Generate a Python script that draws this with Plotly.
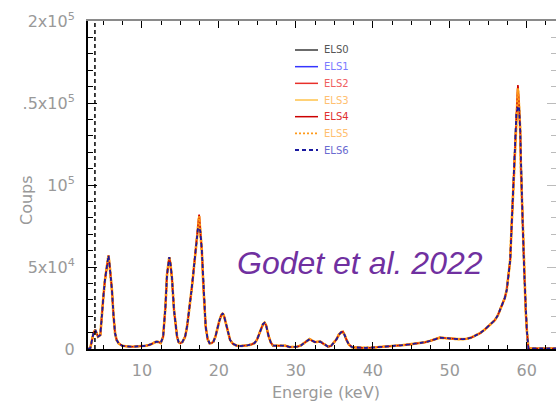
import plotly.graph_objects as go

# ---- data ----
energy_kev = [3.0, 3.3, 3.5, 3.7, 3.95, 4.1, 4.3, 4.6, 4.8, 5.0, 5.2, 5.36, 5.51, 5.66, 5.81, 5.96,
              6.11, 6.32, 6.52, 6.72, 6.97, 7.42, 8.03, 8.53, 9.03, 9.54, 10.04, 10.54, 11.05, 11.45,
              11.85, 12.15, 12.45, 12.76, 13.06, 13.26, 13.41, 13.56, 13.71, 13.91, 14.17, 14.37,
              14.57, 14.77, 14.97, 15.27, 15.62, 15.88, 16.18, 16.48, 16.68, 16.88, 17.08, 17.29,
              17.44, 17.59, 17.79, 17.99, 18.14, 18.29, 18.54, 18.8, 19.05, 19.3, 19.55, 19.8,
              20.05, 20.3, 20.51, 20.71, 20.96, 21.21, 21.46, 21.82, 22.32, 22.82, 23.33, 23.83,
              24.23, 24.63, 24.94, 25.24, 25.54, 25.74, 25.94, 26.14, 26.45, 26.75, 27.05, 27.55,
              28.16, 28.66, 29.16, 29.67, 30.17, 30.67, 31.18, 31.48, 31.78, 32.08, 32.48, 32.89,
              33.19, 33.49, 33.89, 34.2, 34.6, 35.0, 35.3, 35.6, 35.91, 36.11, 36.31, 36.61, 36.91,
              37.32, 37.82, 38.72, 39.73, 40.74, 41.74, 42.75, 43.76, 44.76, 45.77, 46.78, 47.48,
              48.09, 48.69, 49.29, 49.9, 50.5, 51.1, 51.71, 52.21, 52.82, 53.32, 53.92, 54.53,
              55.03, 55.43, 55.84, 56.24, 56.54, 56.84, 57.14, 57.4, 57.65, 57.85, 58.05, 58.25,
              58.45, 58.65, 58.85, 59.0, 59.15, 59.25, 59.46, 59.66, 59.86, 60.01, 60.21, 60.46,
              61.0, 62.0, 63.0, 64.0]

base_counts = [0, 500, 5000, 9700, 11600, 9500, 7500, 8500, 18000, 32000, 42000, 48000, 54000, 57000, 51000, 44000,
               36000, 20000, 9600, 5500, 3500, 2000, 1500, 1400, 1500, 1600, 1800, 2000, 2600, 3500,
               4400, 4300, 3700, 7500, 25800, 45000, 53000, 56000, 52000, 43000, 24000, 14000,
               7500, 4300, 3500, 4300, 7500, 14000, 24000, 37000, 46000, 56000, 65000, 74000,
               None, 72000, 60000, 38000, 24000, 13600, 6000, 3500, 3600, 4500, 7500, 12600,
               17000, 20500, 21800, 19500, 14500, 9000, 5500, 3200, 2000, 1800, 1900, 2300,
               2800, 3600, 5500, 9000, 13000, 15200, 16000, 14500, 8000, 4000, 2000, 2000,
               2400, 2000, 1200, 1100, 1400, 2200, 3800, 5200, 6000, 5200, 4200, 4400,
               4500, 3500, 2000, 1400, 2000, 4000, 6000, 8800, 10300, 10500, 8800, 5300, 2600,
               1100, 800, 700, 800, 1100, 1400, 1700, 2300, 2800, 3300, 4100, 5000,
               6200, 6900, 6700, 6400, 6100, 6000, 6000, 6200, 7000, 8000, 9600, 11800,
               14200, 15700, 17500, 20500, 23800, 27500, 31000, 36000, 45000, 54300, 76600, 99000,
               123000, 143000, None, 148000, 133500, 109000, 78700, 48200, 23800, 11600, 400, 300,
               300, 300, 300, 300]

series_names = ["ELS0", "ELS1", "ELS2", "ELS3", "ELS4", "ELS5", "ELS6"]
peak_17kev_counts = [72000, 73000, 81500, 80500, 82000, 81000, 73600]
peak_59kev_counts = [146000, 148000, 160000, 158000, 161000, 159000, 147800]

y_tick_values = [0, 50000, 100000, 150000, 200000]
y_tick_labels = ["0", "5x10<sup>4</sup>", "10<sup>5</sup>", ".5x10<sup>5</sup>", "2x10<sup>5</sup>"]
x_tick_values = [10, 20, 30, 40, 50, 60]
threshold_kev = 3.9

# ---- styles ----
line_colors = ["#3a3a3a", "#3535ff", "#e8302a", "#ffc24a", "#cc0000", "#ff9a1a", "#1a1aa0"]
text_colors = ["#555555", "#7a7aff", "#f06060", "#ffc070", "#e03030", "#ffc070", "#6a6ad0"]
line_widths = [1.6, 1.6, 1.8, 2.6, 1.6, 2.4, 1.8]
line_dashes = ["solid", "solid", "solid", "solid", "solid", "2px,2px", "4px,3px"]

W, H = 556, 401
L, R, T, B = 88, 0, 21, 52
PW, PH = W - L - R, H - T - B
x_range = [3.0, 63.8]
y_range = [0, 200000]


def px_x(px):
    return (px - L) / PW


def px_y(py):
    return 1 - (py - T) / PH


fig = go.Figure()
for i, name in enumerate(series_names):
    counts = []
    n_missing = 0
    for c in base_counts:
        if c is None:
            counts.append(peak_17kev_counts[i] if n_missing == 0 else peak_59kev_counts[i])
            n_missing += 1
        else:
            counts.append(c)
    fig.add_trace(go.Scatter(
        x=energy_kev, y=counts, mode="lines", name=name, showlegend=False,
        line=dict(color=line_colors[i], width=line_widths[i], dash=line_dashes[i]),
    ))

fig.add_vline(x=threshold_kev, line=dict(color="black", width=1.5, dash="4px,3px"))

gray = "#999999"
tick_font = dict(family="DejaVu Sans", size=16, color=gray)

fig.update_layout(
    width=W, height=H,
    margin=dict(l=L, r=R, t=T, b=B),
    paper_bgcolor="white", plot_bgcolor="white",
    showlegend=False,
    xaxis=dict(
        range=x_range, showgrid=False, zeroline=False,
        showline=True, linecolor="black", linewidth=2,
        ticks="inside", ticklen=7, tickwidth=1, tickcolor="black",
        tickvals=x_tick_values, tickfont=tick_font,
        ticklabelstandoff=6,
        minor=dict(dtick=2.5, ticks="inside", ticklen=4, tickcolor="black", showgrid=False),
    ),
    xaxis2=dict(
        range=x_range, overlaying="x", side="top", anchor="y",
        showgrid=False, zeroline=False, showticklabels=False,
        showline=True, linecolor="#8a8a8a", linewidth=2,
        ticks="inside", ticklen=7, tickcolor="black", dtick=10, tick0=0,
        minor=dict(dtick=2.5, ticks="inside", ticklen=4, tickcolor="black", showgrid=False),
    ),
    yaxis=dict(
        range=y_range, showgrid=False, zeroline=False,
        showline=True, linecolor="black", linewidth=2,
        ticks="inside", ticklen=9, tickwidth=1, tickcolor="black",
        tickvals=y_tick_values, ticktext=y_tick_labels, tickfont=tick_font,
        ticklabelstandoff=8,
        minor=dict(dtick=10000, ticks="inside", ticklen=5, tickcolor="black", showgrid=False),
    ),
    yaxis2=dict(
        range=y_range, overlaying="y", side="right", anchor="x",
        showgrid=False, zeroline=False, showticklabels=False, showline=False,
        ticks="inside", ticklen=9, tickcolor="#bbbbbb", dtick=50000, tick0=0,
        minor=dict(dtick=10000, ticks="inside", ticklen=5, tickcolor="#bbbbbb", showgrid=False),
    ),
)

# invisible trace so the secondary (mirror) axes render
fig.add_trace(go.Scatter(x=[x_range[0]], y=[0], xaxis="x2", yaxis="y2", mode="markers",
                         marker=dict(opacity=0), showlegend=False, hoverinfo="skip"))

# ---- legend (drawn in paper space to match the compact original) ----
leg_top, leg_step = 50, 16.67
for i, name in enumerate(series_names):
    yy = px_y(leg_top + i * leg_step)
    fig.add_shape(type="line", xref="paper", yref="paper",
                  x0=px_x(295), x1=px_x(318), y0=yy, y1=yy,
                  line=dict(color=line_colors[i], width=1.5 if line_dashes[i] == "solid" else 1.8,
                            dash=line_dashes[i]))
    fig.add_annotation(text=name, xref="paper", yref="paper", x=px_x(322), y=yy,
                       showarrow=False, xanchor="left", yanchor="middle",
                       font=dict(family="DejaVu Sans", size=10, color=text_colors[i]))

fig.add_annotation(text="Energie (keV)", xref="paper", yref="paper",
                   x=px_x(326), y=px_y(392),
                   showarrow=False, xanchor="center", yanchor="middle",
                   font=dict(family="DejaVu Sans", size=16, color=gray))
fig.add_annotation(text="Coups", xref="paper", yref="paper",
                   x=px_x(26), y=px_y(200),
                   showarrow=False, xanchor="center", yanchor="middle", textangle=-90,
                   font=dict(family="DejaVu Sans", size=16, color=gray))
fig.add_annotation(text="Godet et al. 2022", xref="paper", yref="paper",
                   x=px_x(360), y=px_y(263),
                   showarrow=False, xanchor="center", yanchor="middle",
                   font=dict(family="Liberation Sans", size=32, color="#7030a0", style="italic"))

fig.write_html("out.html")
